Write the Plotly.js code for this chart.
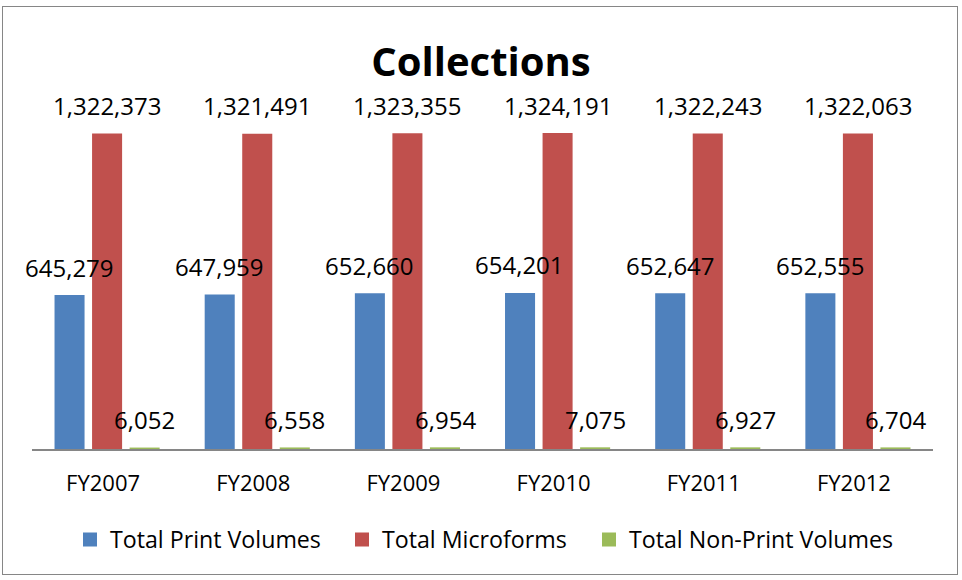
<!DOCTYPE html>
<html>
<head>
<meta charset="utf-8">
<script src="https://cdn.plot.ly/plotly-3.0.1.min.js"></script>
<style>
  body { margin: 0; background: #fff; }
  #wrap { position: relative; width: 962px; height: 580px; }
  #chart { width: 962px; height: 580px; }
  #frame { position: absolute; left: 2px; top: 6px; width: 954px; height: 567px;
           border: 1px solid #868686; pointer-events: none; }
</style>
</head>
<body>
<div id="wrap">
  <div id="chart"></div>
  <div id="frame"></div>
</div>
<script>
const categories = ["FY2007", "FY2008", "FY2009", "FY2010", "FY2011", "FY2012"];
const printVolumes = [645279, 647959, 652660, 654201, 652647, 652555];
const microforms = [1322373, 1321491, 1323355, 1324191, 1322243, 1322063];
const nonPrintVolumes = [6052, 6558, 6954, 7075, 6927, 6704];
const seriesNames = ["Total Print Volumes", "Total Microforms", "Total Non-Print Volumes"];
const seriesColors = ["#4F81BD", "#C0504D", "#9BBB59"];

const FONT = "Open Sans, sans-serif";
const allSeries = [printVolumes, microforms, nonPrintVolumes];
const legendIds = ["legend", "legend2", "legend3"];
const legendLeftPx = [70, 342, 589];

const PLOT_L = 32, PLOT_R = 29, PLOT_W = 962 - PLOT_L - PLOT_R;

const barTraces = allSeries.map((vals, i) => ({
  type: "bar",
  name: seriesNames[i],
  x: categories,
  y: vals,
  marker: { color: seriesColors[i] },
  showlegend: false,
  hoverinfo: "skip"
}));

// legend keys (square swatches), one per series
const legendTraces = seriesNames.map((nm, i) => ({
  type: "scatter", mode: "markers",
  name: nm, x: [null], y: [null],
  legend: legendIds[i],
  marker: { symbol: "square", size: 14, color: seriesColors[i] },
  showlegend: true, hoverinfo: "skip"
}));

const fmt = v => v.toLocaleString("en-US");
const annotations = [];
allSeries.forEach((vals, i) => {
  vals.forEach((v, j) => {
    annotations.push({
      x: categories[j], y: v, xref: "x", yref: "y",
      text: fmt(v), showarrow: false,
      xshift: (i - 1) * 37.6, yshift: 28,
      yanchor: "middle", xanchor: "center",
      font: { family: FONT, size: 24, color: "#000" }
    });
  });
});

const legendBase = {
  orientation: "h", yanchor: "top", y: -0.206, xanchor: "left",
  font: { family: FONT, size: 23.2, color: "#000" },
  itemwidth: 30, bgcolor: "rgba(0,0,0,0)"
};

const layout = {
  width: 962, height: 580,
  paper_bgcolor: "#fff", plot_bgcolor: "#fff",
  margin: { l: PLOT_L, r: PLOT_R, t: 115, b: 131 },
  barmode: "group", bargap: 0.25, bargroupgap: 0.2,
  title: {
    text: "<b>Collections</b>",
    font: { family: FONT, size: 40, color: "#000" },
    x: 0.5, xanchor: "center", xref: "container",
    y: 0.893, yanchor: "middle", yref: "container"
  },
  xaxis: {
    range: [-0.5, categories.length - 0.5],
    showline: true, linecolor: "#868686", linewidth: 1.5,
    ticks: "", showgrid: false, zeroline: false,
    tickfont: { family: FONT, size: 22, color: "#000" },
    ticklabelstandoff: 14, ticklabelshift: -4
  },
  yaxis: {
    range: [0, 1400000], visible: false, showgrid: false, zeroline: false
  },
  showlegend: true,
  annotations: annotations,
  font: { family: FONT }
};
legendIds.forEach((id, i) => {
  layout[id] = Object.assign({}, legendBase, { x: (legendLeftPx[i] - PLOT_L) / PLOT_W });
});

Plotly.newPlot("chart", barTraces.concat(legendTraces), layout, { displayModeBar: false, staticPlot: true });
</script>
</body>
</html>
